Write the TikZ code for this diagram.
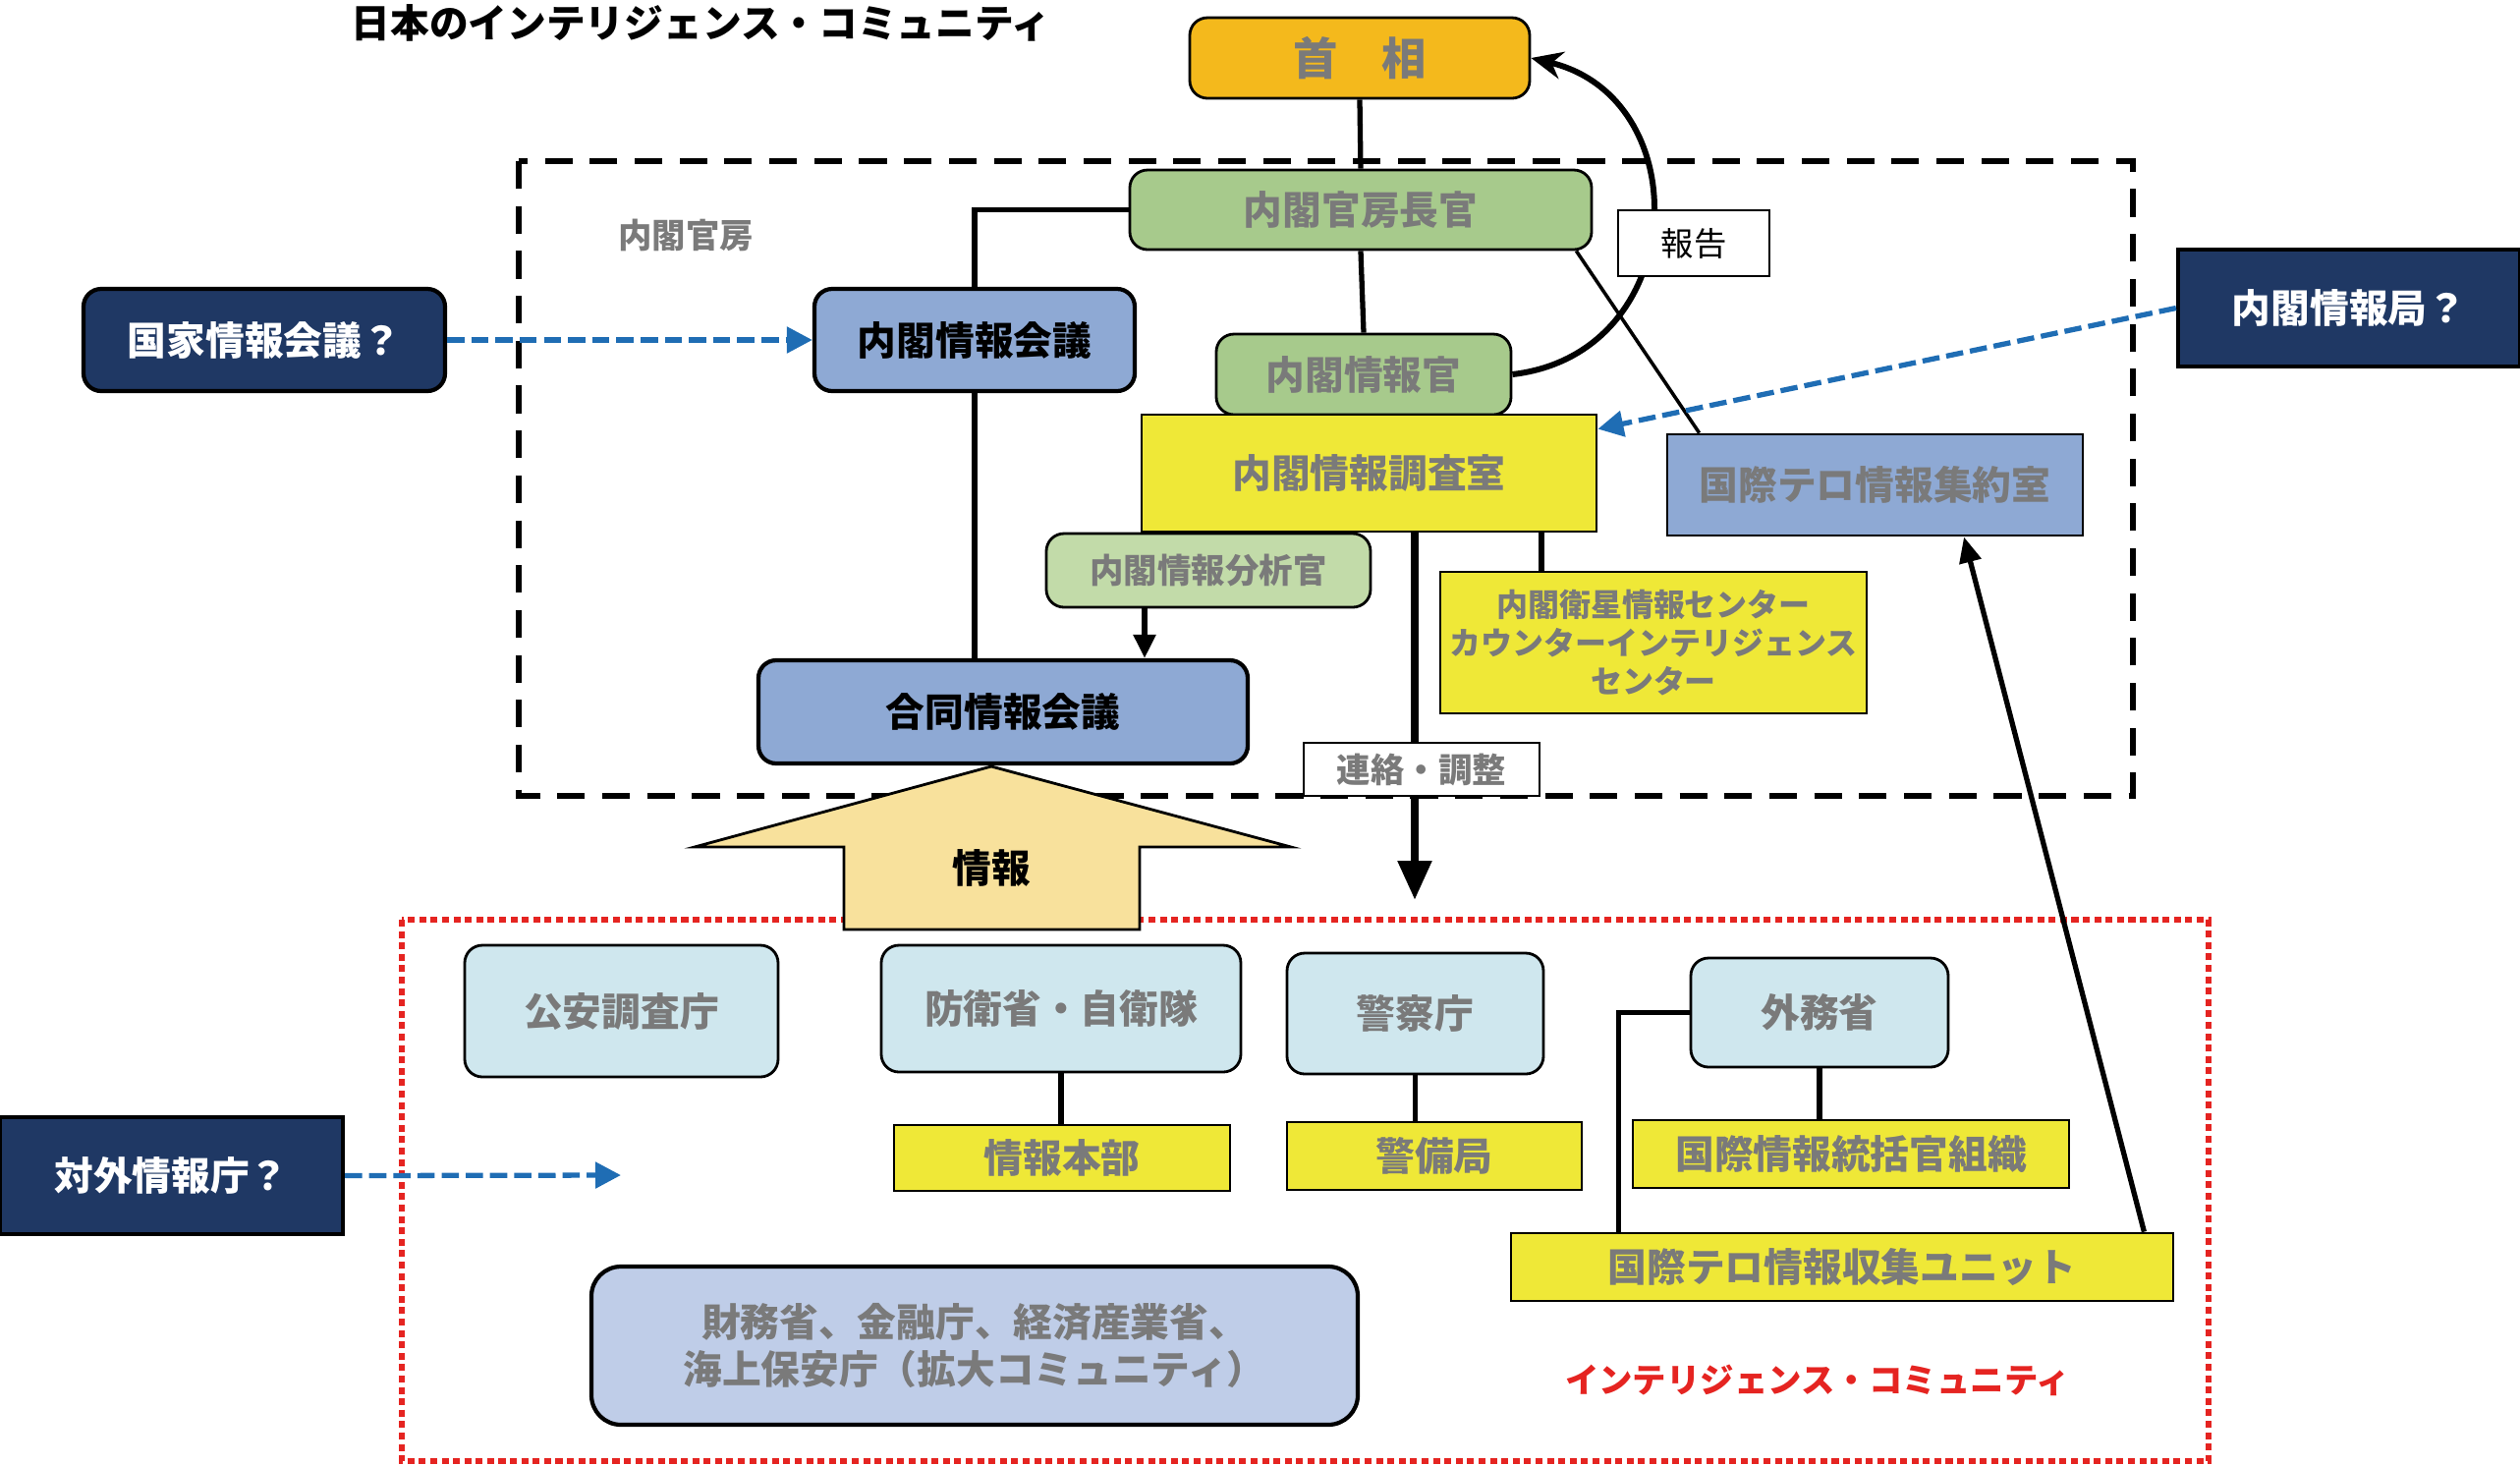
\documentclass[tikz,border=0pt]{standalone}
\usepackage{fontspec}
\setmainfont{Noto Sans CJK JP}
\usepackage{tikz}
\usetikzlibrary{arrows.meta}

\definecolor{shushoorange}{HTML}{F4B91C}
\definecolor{kanbogreen}{HTML}{A7CA8C}
\definecolor{palegreen}{HTML}{C2DBA9}
\definecolor{kaigiblue}{HTML}{8EA9D4}
\definecolor{navyblue}{HTML}{1F3864}
\definecolor{unityellow}{HTML}{EFE837}
\definecolor{shochocyan}{HTML}{CFE7EE}
\definecolor{kakudaiblue}{HTML}{BFCDE8}
\definecolor{infotan}{HTML}{F8E19C}
\definecolor{graytxt}{HTML}{7A7A7A}
\definecolor{dashblue}{HTML}{1F6DB4}
\definecolor{dotred}{HTML}{E52421}

\tikzset{
  bigtxt/.style={font=\bfseries\fontsize{11.3}{13.8}\selectfont},
  smalltxt/.style={font=\bfseries\fontsize{9.8}{11.1}\selectfont},
  box/.style={draw, line width=0.8pt, inner sep=0pt, align=center, bigtxt, text=graytxt},
  rbox/.style={box, rounded corners=0.18cm},
  navybox/.style={box, fill=navyblue, text=white, line width=1.2pt},
  yellowbox/.style={box, fill=unityellow},
  conn/.style={line width=1.5pt},
  bluearrow/.style={dashblue, line width=1.5pt, dash pattern=on 5pt off 2pt,
    -{Triangle[length=2.6mm,width=2.6mm]}},
}

\begin{document}
\begin{tikzpicture}
\useasboundingbox (0,0) rectangle (25.65,-14.91);

% frames
\draw[line width=1.9pt, dash pattern=on 8pt off 5pt] (5.28,-1.64) rectangle (21.71,-8.10);
\draw[dotred, line width=1.7pt, dash pattern=on 2pt off 1.3pt] (4.09,-9.36) rectangle (22.48,-14.87);

\node[bigtxt] (title) at (7.135,-0.23) {日本のインテリジェンス・コミュニティ};
\node[smalltxt, text=graytxt] (kanbo) at (6.98,-2.39) {内閣官房};

% top
\node[rbox, fill=shushoorange, minimum width=3.46cm, minimum height=0.82cm,
  font=\bfseries\fontsize{12.9}{14}\selectfont] (shusho) at (13.84,-0.59) {首　相};
\node[rbox, fill=kanbogreen, minimum width=4.70cm, minimum height=0.81cm] (chokan) at (13.85,-2.135) {内閣官房長官};
\node[rbox, fill=kanbogreen, minimum width=3.00cm, minimum height=0.82cm] (johokan) at (13.88,-3.81) {内閣情報官};
\node[rbox, fill=kaigiblue, text=black, line width=1.2pt, minimum width=3.26cm, minimum height=1.04cm] (kaigi) at (9.92,-3.46) {内閣情報会議};
\node[navybox, rounded corners=0.18cm, minimum width=3.68cm, minimum height=1.04cm] (kokka) at (2.69,-3.46) {国家情報会議？};
\node[navybox, minimum width=3.48cm, minimum height=1.19cm] (kyoku) at (23.91,-3.135) {内閣情報局？};
\node[yellowbox, minimum width=4.63cm, minimum height=1.19cm] (chosa) at (13.935,-4.815) {内閣情報調査室};
\node[box, fill=kaigiblue, minimum width=4.23cm, minimum height=1.03cm] (shuyaku) at (19.085,-4.935) {国際テロ情報集約室};
\node[rbox, fill=palegreen, smalltxt, minimum width=3.30cm, minimum height=0.75cm] (bunseki) at (12.30,-5.805) {内閣情報分析官};
\node[rbox, fill=kaigiblue, text=black, line width=1.2pt, minimum width=4.98cm, minimum height=1.05cm] (godo) at (10.21,-7.245) {合同情報会議};
\node[yellowbox, font=\bfseries\fontsize{9.1}{11.1}\selectfont, minimum width=4.34cm, minimum height=1.44cm] (eisei) at (16.83,-6.54) {内閣衛星情報センター\\カウンターインテリジェンス\\センター};

\draw[conn] (shusho.south) -- (chokan.north);
\draw[conn] (chokan.south) -- (johokan.north);
\draw[conn] (chokan.west) -| (kaigi.north);
\draw[conn] (kaigi.south) -- (kaigi.south |- godo.north);
\draw[conn, -{Triangle[length=2.4mm,width=2.2mm]}] ([xshift=-0.65cm]bunseki.south) -- ([xshift=-0.65cm]bunseki.south |- godo.north);
\draw[line width=1pt] ([xshift=-0.17cm]chokan.south east) -- ([xshift=0.34cm]shuyaku.north west);
\draw[line width=1.7pt, -{Stealth[length=3.2mm,width=2.8mm]}] (johokan.east) .. controls (17.2,-3.6) and (17.3,-1.0) .. (shusho.east);
\node[box, fill=white, line width=0.6pt, minimum width=1.54cm, minimum height=0.67cm,
  font=\fontsize{9.5}{11}\selectfont, text=black] (hokoku) at (17.24,-2.475) {報告};

\draw[conn] ([xshift=1.755cm]chosa.south) -- ([xshift=1.755cm]chosa.south |- eisei.north);
\coordinate (renrakuend) at (14.40,-9.16);
\draw[line width=2.4pt, -{Triangle[length=4mm,width=3.3mm]}] ([xshift=0.465cm]chosa.south) -- (renrakuend);
\node[box, fill=white, line width=0.6pt, smalltxt, minimum width=2.40cm, minimum height=0.54cm] (renraku) at (14.47,-7.83) {連絡・調整};

\draw[bluearrow] (kokka.east) -- (kaigi.west);
\draw[bluearrow] (kyoku.west) -- ([yshift=-0.16cm]chosa.north east);

% info arrow
\draw[fill=infotan, line width=0.8pt] (10.09,-7.80) -- (13.14,-8.62) -- (11.60,-8.62) -- (11.60,-9.46)
  -- (8.59,-9.46) -- (8.59,-8.62) -- (7.07,-8.62) -- cycle;
\node[bigtxt] (joho) at (10.09,-8.83) {情報};

% community
\node[rbox, fill=shochocyan, minimum width=3.19cm, minimum height=1.34cm] (koan) at (6.325,-10.29) {公安調査庁};
\node[rbox, fill=shochocyan, minimum width=3.66cm, minimum height=1.29cm] (boei) at (10.80,-10.265) {防衛省・自衛隊};
\node[rbox, fill=shochocyan, minimum width=2.61cm, minimum height=1.23cm] (keisatsu) at (14.405,-10.315) {警察庁};
\node[rbox, fill=shochocyan, minimum width=2.62cm, minimum height=1.11cm] (gaimu) at (18.52,-10.305) {外務省};
\node[yellowbox, minimum width=3.42cm, minimum height=0.67cm] (honbu) at (10.81,-11.785) {情報本部};
\node[yellowbox, minimum width=3.00cm, minimum height=0.69cm] (keibi) at (14.60,-11.765) {警備局};
\node[yellowbox, minimum width=4.44cm, minimum height=0.69cm] (tokatsu) at (18.84,-11.745) {国際情報統括官組織};
\node[yellowbox, minimum width=6.74cm, minimum height=0.69cm] (unit) at (18.75,-12.895) {国際テロ情報収集ユニット};
\node[box, rounded corners=0.3cm, fill=kakudaiblue, line width=1.2pt, minimum width=7.80cm, minimum height=1.61cm] (zaimu) at (9.92,-13.695) {財務省、金融庁、経済産業省、\\海上保安庁（拡大コミュニティ）};
\node[navybox, minimum width=3.49cm, minimum height=1.19cm] (taigai) at (1.745,-11.965) {対外情報庁？};
\node[smalltxt, text=dotred] (iclabel) at (18.50,-14.05) {インテリジェンス・コミュニティ};

\draw[conn] (boei.south) -- (boei.south |- honbu.north);
\draw[conn] (keisatsu.south) -- (keisatsu.south |- keibi.north);
\draw[conn] (gaimu.south) -- (gaimu.south |- tokatsu.north);
\draw[conn] (gaimu.west) -| ([xshift=1.11cm]unit.north west);
\draw[conn, -{Triangle[length=2.6mm,width=2.2mm]}] ([xshift=-0.31cm]unit.north east) -- ([xshift=0.905cm]shuyaku.south);

\coordinate (taigaiend) at (6.32,-11.96);
\draw[bluearrow] (taigai.east) -- (taigaiend);
\end{tikzpicture}
\end{document}
